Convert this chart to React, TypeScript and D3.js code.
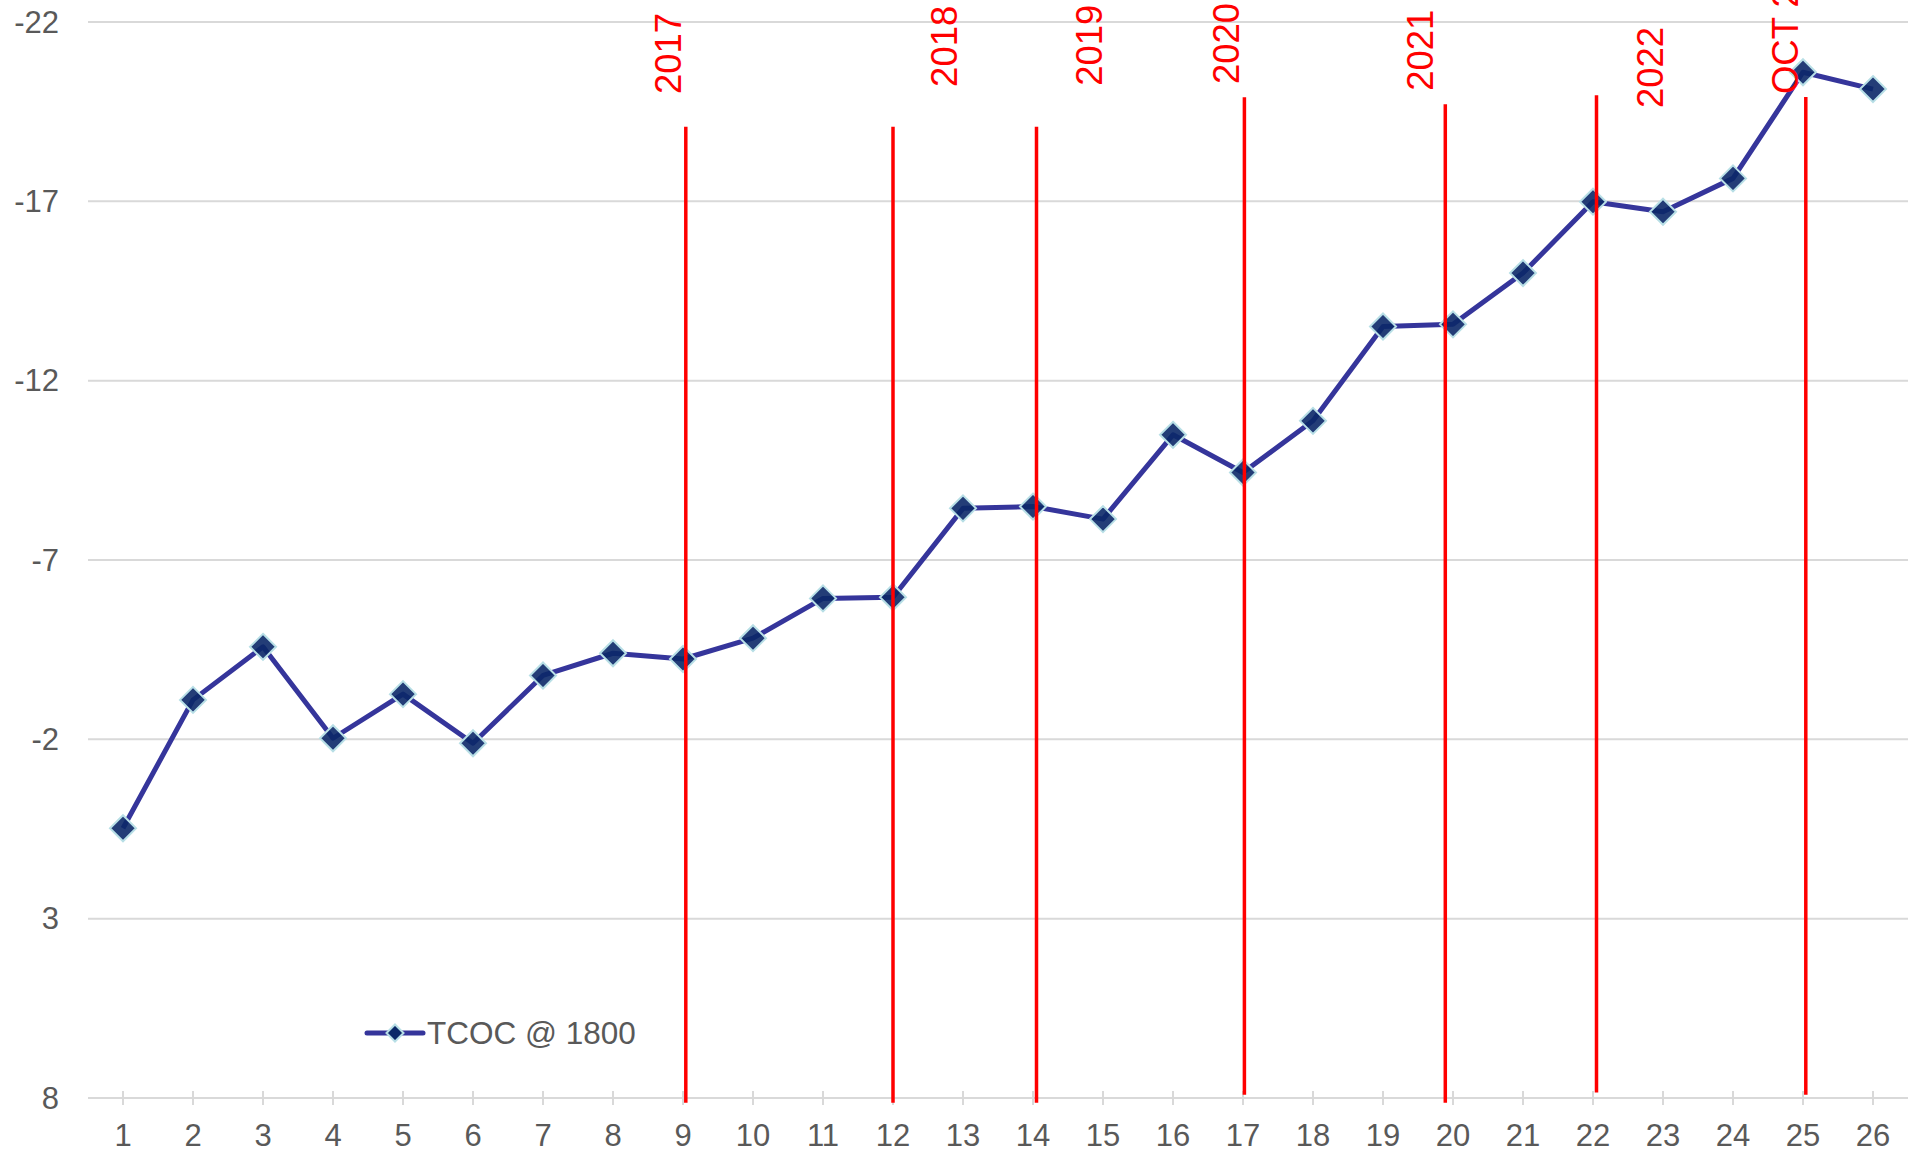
import React from "react";
import * as d3 from "d3";

const categories = d3.range(1, 27).map((d) => String(d));
const tcocValues = [
  0.48, -3.1, -4.58, -2.03, -3.26, -1.89, -3.78, -4.4, -4.24, -4.82, -5.93, -5.96, -8.44,
  -8.49, -8.14, -10.49, -9.44, -10.88, -13.51, -13.57, -15.0, -16.99, -16.71, -17.64, -20.6,
  -20.13,
];
const yTicks = [-22, -17, -12, -7, -2, 3, 8];
const seriesName = "TCOC @ 1800";

// year markers (positions in category units / value units)
const yearLabels = ["2017", "2018", "2019", "2020", "2021", "2022", "OCT 2023"];
const yearLinePos = [9.04, 12.0, 14.05, 17.02, 19.89, 22.05, 25.04];
const yearLineTop = [-19.08, -19.08, -19.08, -19.9, -19.71, -19.96, -19.91];
const yearLineBottom = [8.13, 8.13, 8.13, 7.91, 8.13, 7.85, 7.91];
const yearLabelPos = [8.97, 12.91, 14.99, 16.94, 19.71, 23.0, 24.93];
const yearLabelBottom = [-19.99, -20.19, -20.22, -20.27, -20.08, -19.6, -19.99];

const W = 1921;
const H = 1153;
const FONT = "'Liberation Sans', Arial, sans-serif";

export default function App() {
  const x = d3.scaleLinear().domain([0.5, 26.5]).range([88, 1908]);
  const y = d3.scaleLinear().domain([-22, 8]).range([22, 1098]);

  const pts = tcocValues.map((v, i) => [x(i + 1), y(v)] as [number, number]);
  const line = d3.line()(pts) || "";
  const diamond = (cx: number, cy: number, r: number) =>
    `M${cx},${cy - r}L${cx + r},${cy}L${cx},${cy + r}L${cx - r},${cy}Z`;

  return (
    <svg
      width={W}
      height={H}
      style={{ position: "absolute", left: 0, top: 0, background: "#fff" }}
      fontFamily={FONT}
    >
      {/* gridlines */}
      {yTicks.map((t) => (
        <line key={"g" + t} x1={88} x2={1908} y1={y(t)} y2={y(t)} stroke="#d9d9d9" strokeWidth={2} />
      ))}
      {/* y labels */}
      {yTicks.map((t) => (
        <text key={"yl" + t} x={59} y={y(t) + 10.5} textAnchor="end" fontSize={31} fill="#595959">
          {t}
        </text>
      ))}
      {/* x ticks and labels */}
      {categories.map((c, i) => (
        <g key={"x" + c}>
          <line x1={x(i + 1)} x2={x(i + 1)} y1={1091} y2={1105} stroke="#d9d9d9" strokeWidth={2} />
          <text x={x(i + 1)} y={1146} textAnchor="middle" fontSize={31} fill="#595959">
            {c}
          </text>
        </g>
      ))}
      {/* series */}
      <path d={line} fill="none" stroke="#35359b" strokeWidth={5} strokeLinejoin="round" />
      {pts.map(([px, py], i) => (
        <path
          key={"m" + i}
          d={diamond(px, py, 13)}
          fill="#0b2868"
          fillOpacity={0.9}
          stroke="#b8dfe6"
          strokeWidth={2}
        />
      ))}
      {/* year lines */}
      {yearLabels.map((lab, i) => (
        <g key={"yr" + lab}>
          <line
            x1={x(yearLinePos[i])}
            x2={x(yearLinePos[i])}
            y1={y(yearLineTop[i])}
            y2={y(yearLineBottom[i])}
            stroke="#ff0000"
            strokeWidth={3.5}
          />
          <text
            transform={`translate(${x(yearLabelPos[i])},${y(yearLabelBottom[i])}) rotate(-90)`}
            fontSize={36.5}
            fill="#ff0000"
          >
            {lab}
          </text>
        </g>
      ))}
      {/* legend */}
      <line x1={367} x2={423} y1={1033} y2={1033} stroke="#35359b" strokeWidth={5} strokeLinecap="round" />
      <path d={diamond(395, 1033, 8.5)} fill="#0b2868" stroke="#b8dfe6" strokeWidth={2} />
      <text x={427} y={1043.5} fontSize={31.5} fill="#595959">
        {seriesName}
      </text>
    </svg>
  );
}
